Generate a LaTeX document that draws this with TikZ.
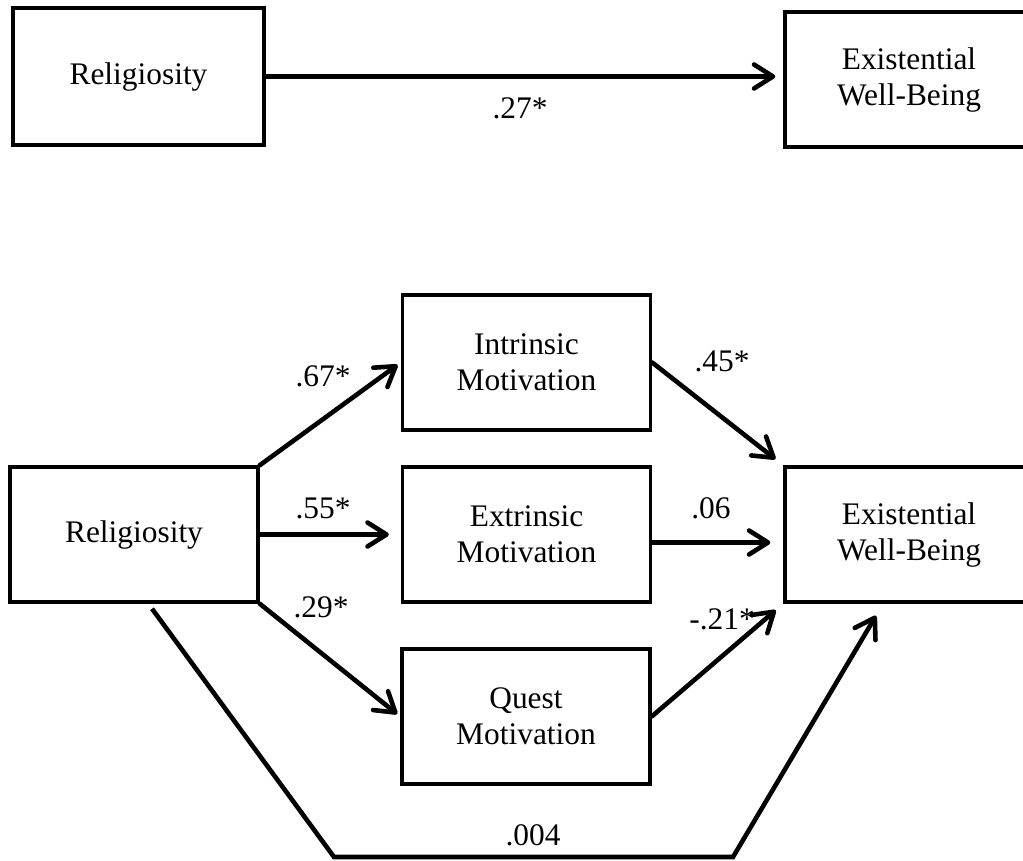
\documentclass[tikz,border=0pt]{standalone}
\usepackage{fontspec}
\setmainfont{Liberation Serif}
\usetikzlibrary{arrows.meta}
\tikzset{
  box/.style={draw, line width=1.7pt, minimum width=124pt, minimum height=67.5pt,
    align=center, inner sep=0pt},
  link/.style={line width=2.3pt, line cap=round, -{Straight Barb[length=9.5pt,width=12pt,round]}},
  coef/.style={inner sep=0pt}
}
\begin{document}
\begin{tikzpicture}[x=0.5pt, y=-0.5pt, font=\fontsize{15.7}{18}\selectfont]
        \path[use as bounding box, clip] (0,0) rectangle (1023,861);
        \node[box, minimum width=125.5pt, minimum height=68.5pt] (relA) at (138.5,76.5){Religiosity};
        \node[box] (ewbA) at (909,79.5){Existential\\Well-Being};
        \node[coef] (labA) at (520,108){.27*};
        \draw[link, shorten >=4pt] (relA.east) -- (relA.east -| ewbA.west);

        \node[box] (rel) at (134,534.5){Religiosity};
        \node[box] (intr) at (526.5,362.5){Intrinsic\\Motivation};
        \node[box] (extr) at (526.5,534.5){Extrinsic\\Motivation};
        \node[box] (quest) at (526,716.5){Quest\\Motivation};
        \node[box] (ewb) at (909,534.5){Existential\\Well-Being};
        \node[coef] (lab67) at (323,376){.67*};
        \node[coef] (lab55) at (323,508){.55*};
        \node[coef] (lab29) at (321,607){.29*};
        \node[coef] (lab45) at (722,361){.45*};
        \node[coef] (lab06) at (711,508){.06};
        \node[coef] (lab21) at (722,619){-.21*};
        \node[coef] (lab004) at (533,835){.004};
        \coordinate (bl) at (334,857);
        \coordinate (br) at (733,857);
        \draw[link, shorten >=2pt] (rel.north east) -- (intr.west);
        \draw[link, shorten >=6pt] (rel.east) -- (rel.east -| extr.west);
        \draw[link, shorten >=2pt] (rel.south east) -- (quest.west);
        \draw[link, shorten >=5pt] (intr.east) -- (ewb.north west);
        \draw[link, shorten >=6.5pt] ([yshift=-4pt]extr.east) -- ([yshift=-4pt]extr.east -| ewb.west);
        \draw[link, shorten >=5pt] (quest.east) -- (ewb.south west);
        \draw[link, line cap=butt] ([xshift=9pt,yshift=-2.5pt]rel.south) -- (bl) -- (br) -- ([xshift=-16.5pt,yshift=-6pt]ewb.south);
\end{tikzpicture}
\end{document}
